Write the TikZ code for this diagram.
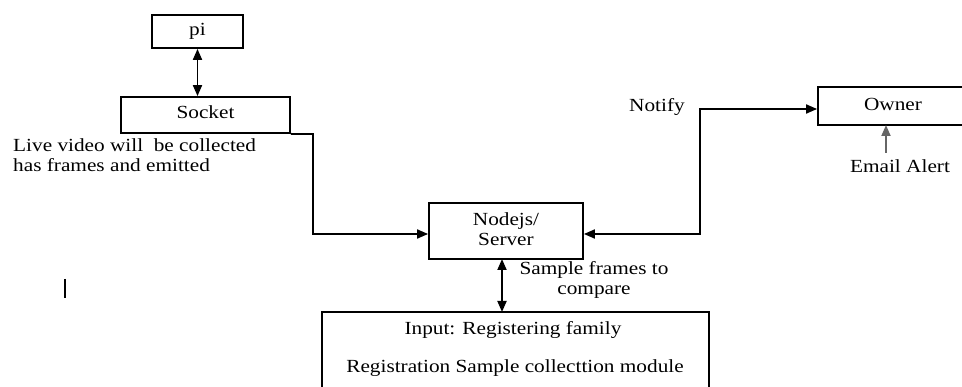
\documentclass[tikz,border=0pt]{standalone}
\usepackage{fontspec}
\setmainfont[FakeStretch=1.15]{Liberation Serif}
\usetikzlibrary{arrows.meta,calc}
\begin{document}
\begin{tikzpicture}[x=1pt,y=-1pt,
  box/.style={draw,line width=1.8pt,inner sep=0pt},
  conn/.style={line width=1.8pt,-{Triangle[length=11pt,width=9pt]}},
  dconn/.style={line width=1.8pt,{Triangle[length=11pt,width=9pt]}-{Triangle[length=11pt,width=9pt]}},
  lbl/.style={font=\fontsize{18.5}{20}\selectfont,inner sep=0pt},
]
\useasboundingbox (0,0) rectangle (962,387);
% boxes
\node[box,minimum width=91pt,minimum height=33pt] (pi) at (197.5,31.5) {};
\node[lbl] at (pi.center) {pi};
\node[box,minimum width=169pt,minimum height=36pt] (sock) at (205.5,115) {};
\node[lbl] at (205.5,112) {Socket};
\node[box,minimum width=154pt,minimum height=56pt] (srv) at (506,231) {};
\node[lbl,align=center] at (506,229) {Nodejs/\\[0pt]Server};
\node[box,minimum width=145pt,minimum height=38pt] (own) at (890.5,106) {};
\node[lbl] at (893,104) {Owner};
\node[box,minimum width=387pt,minimum height=90pt] (inp) at (515.5,357) {};
\node[lbl] (t1) at (513,330) {Input: Registering family};
\node[lbl] (t2) at (515,368) {Registration Sample collecttion module};
% labels
\node[lbl,anchor=west,align=left] (live) at (13,155) {Live video will\ \ be collected\\[0pt]has frames and emitted};
\node[lbl] (notify) at (657,107) {Notify};
\node[lbl] (email) at (900,166) {Email Alert};
\node[lbl,align=center] (sample) at (594,280) {Sample frames to\\[0pt]compare};
% cursor mark
\draw[line width=2.2pt] (65,279) -- (65,298);
% connectors
\draw[dconn] (pi.south) -- (pi.south |- sock.north);
\coordinate (b1) at (313,134);
\draw[conn] (sock.south east) -- (b1) |- ($(srv.west)+(0,3)$);
\coordinate (b2) at (700,109);
\draw[dconn] ($(srv.east)+(0,3)$) -| (b2) -- (b2 -| own.west);
\draw[dconn] (502,259) -- (502,312);
\draw[conn,draw=black!60,fill=black] (886,153) -- (886,125);
\end{tikzpicture}
\end{document}
